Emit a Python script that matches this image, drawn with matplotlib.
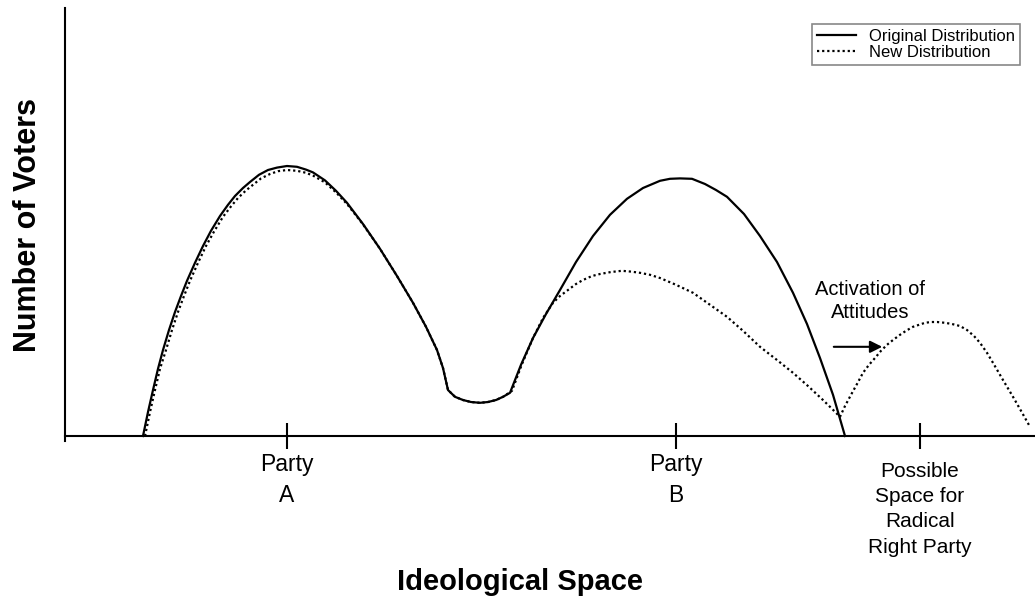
import matplotlib
matplotlib.use('Agg')
import matplotlib.pyplot as plt
from matplotlib.transforms import ScaledTranslation

plt.rcParams['font.family'] = ['Liberation Sans', 'DejaVu Sans']

# Original distribution (solid line)
orig_x = [7.8, 8.3, 8.8, 9.3, 9.8, 10.4, 11.0, 11.6, 12.2, 13.0, 13.8, 14.6, 15.5, 16.3,
          17.0, 17.8, 18.5, 19.4, 20.3, 21.2, 22.2, 23.2, 24.1, 24.8, 26.0, 27.1, 28.2,
          29.8, 31.5, 33.2, 34.8, 36.1, 37.2, 37.8, 38.3, 39.0, 39.8, 40.6, 41.5, 42.3,
          43.1, 43.8, 44.5, 45.6, 46.8, 48.1, 49.5, 51.1, 52.8, 54.5, 56.2, 57.8, 59.5,
          60.5, 61.5, 62.7, 64.0, 65.1, 66.2, 67.9, 69.5, 71.2, 72.8, 74.2, 75.5, 76.8, 78.0]
orig_y = [0.0, 6.0, 11.5, 16.8, 21.5, 26.5, 31.0, 35.0, 38.8, 43.3, 47.5, 51.3, 55.0, 57.8,
          60.0, 62.0, 63.5, 65.3, 66.5, 67.1, 67.5, 67.3, 66.6, 65.9, 63.9, 61.3, 58.3,
          53.0, 46.8, 40.0, 33.3, 27.3, 21.5, 17.0, 11.5, 9.8, 9.0, 8.5, 8.3, 8.5,
          9.0, 9.8, 10.8, 17.8, 24.5, 30.5, 36.5, 43.5, 50.0, 55.3, 59.3, 62.0, 63.8,
          64.3, 64.4, 64.3, 63.0, 61.5, 59.8, 55.5, 50.0, 43.5, 35.8, 28.0, 19.5, 10.3, 0.0]

# New distribution (dotted line)
new_x = [8.0, 8.5, 9.0, 9.5, 10.1, 10.7, 11.3, 11.9, 12.5, 13.3, 14.1, 14.9, 15.8, 16.6,
         17.3, 18.1, 18.8, 19.6, 20.5, 21.3, 22.2, 23.2, 24.1, 24.8, 26.0, 27.1, 28.2,
         29.8, 31.5, 33.2, 34.8, 36.1, 37.2, 37.8, 38.3, 39.0, 39.8, 40.6, 41.5, 42.3,
         43.1, 43.8, 44.7, 45.7, 46.8, 47.8, 48.8, 49.5, 50.3, 51.1, 51.8, 52.7, 53.5,
         54.6, 55.7, 56.6, 57.5, 58.5, 59.5, 61.1, 62.8, 64.5, 66.2, 67.8, 69.5, 71.2,
         72.8, 74.3, 75.8, 76.7, 77.5, 78.0, 78.6, 79.2, 79.8, 80.4, 81.0, 81.6, 82.2,
         82.8, 83.5, 84.1, 84.8, 85.4, 86.0, 86.6, 87.2, 88.0, 88.7, 89.5, 90.2, 90.9,
         91.5, 92.2, 92.8, 93.8, 94.8, 95.6, 96.5]
new_y = [0.0, 6.0, 11.5, 16.8, 21.5, 26.5, 31.0, 35.0, 38.8, 43.3, 47.5, 51.1, 54.8, 57.4,
         59.5, 61.4, 62.8, 64.4, 65.5, 66.2, 66.5, 66.3, 65.8, 65.1, 63.4, 60.9, 58.0,
         52.9, 46.8, 40.0, 33.3, 27.3, 21.5, 17.0, 11.5, 9.8, 9.0, 8.5, 8.3, 8.5,
         9.0, 9.8, 11.3, 18.0, 24.5, 29.5, 33.3, 35.0, 36.5, 38.0, 39.0, 40.0, 40.5,
         41.0, 41.3, 41.1, 40.8, 40.3, 39.5, 37.8, 35.8, 32.8, 29.8, 26.3, 22.3, 19.0,
         15.8, 12.5, 9.0, 6.8, 4.8, 7.5, 10.3, 13.0, 15.8, 17.8, 19.5, 21.3, 22.8,
         24.0, 25.3, 26.3, 27.3, 27.8, 28.3, 28.5, 28.5, 28.3, 28.0, 27.5, 26.5, 25.0,
         23.3, 20.8, 18.3, 14.0, 9.8, 6.3, 2.3]

tick_pos = [22.2, 61.1, 85.5]
tick_labels = ['Party\nA', 'Party\nB', 'Possible\nSpace for\nRadical\nRight Party']

fig = plt.figure(figsize=(10.35, 6.01), dpi=100)
ax = fig.add_axes([0.0628, 0.2662, 0.9372, 0.7205])

new_line, = ax.plot(new_x, new_y, color='black', lw=1.6, linestyle=(0, (1, 1.3)),
                    label='New Distribution')
orig_line, = ax.plot(orig_x, orig_y, color='black', lw=1.6, label='Original Distribution')

ax.set_xlim(0, 97)
ax.set_ylim(-1.25, 107)

# Spines
ax.spines['top'].set_visible(False)
ax.spines['right'].set_visible(False)
ax.spines['bottom'].set_position(('data', 0))
ax.spines['left'].set_linewidth(1.5)
ax.spines['bottom'].set_linewidth(1.5)
ax.set_yticks([])

# Ticks
ax.set_xticks(tick_pos, tick_labels)
ax.tick_params(axis='x', direction='inout', length=19, width=1.5, pad=3)
for lbl in ax.get_xticklabels():
    if lbl.get_text().startswith('Party'):
        lbl.set_fontsize(16.5)
        lbl.set_linespacing(1.45)
    else:
        lbl.set_fontsize(15)
        lbl.set_linespacing(1.42)
        lbl.set_transform(lbl.get_transform() +
                          ScaledTranslation(0, -6 / 72, fig.dpi_scale_trans))

# Annotation
ax.text(80.5, 33.8, 'Activation of\nAttitudes', ha='center', va='center',
        fontsize=14.5, linespacing=1.3)
ax.annotate('', xy=(82.0, 22.3), xytext=(76.6, 22.3),
            arrowprops=dict(arrowstyle='-|>', color='black', lw=1.5, mutation_scale=18))

# Axis titles
fig.text(0.0266, 0.626, 'Number of Voters', rotation=90, ha='center', va='center',
         fontsize=22, fontweight='bold')
fig.text(0.5024, 0.0183, 'Ideological Space', ha='center', va='baseline',
         fontsize=21, fontweight='bold')

# Legend
leg = fig.legend(handles=[orig_line, new_line], loc='upper right',
                 bbox_to_anchor=(0.9855, 0.960), bbox_transform=fig.transFigure,
                 borderaxespad=0, fontsize=12, fancybox=False, framealpha=1,
                 edgecolor='#888888', borderpad=0.3, labelspacing=0.05,
                 handlelength=2.3, handletextpad=0.8)
leg.get_frame().set_linewidth(1.2)

fig.savefig('out.png', dpi=100)
